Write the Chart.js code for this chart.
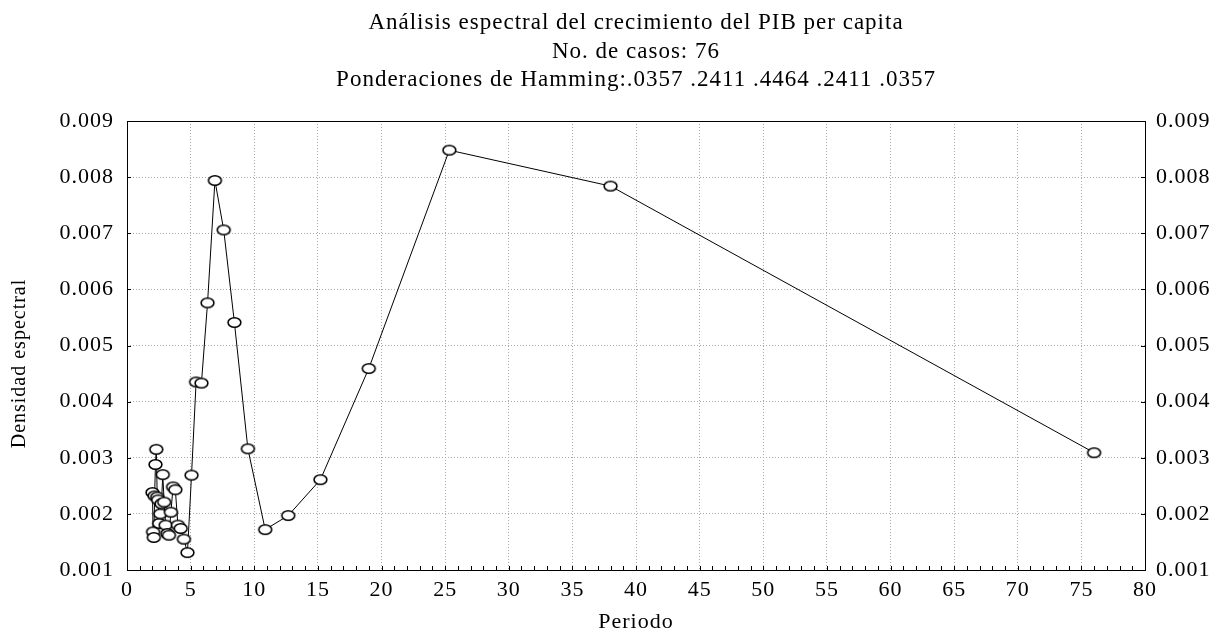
<!DOCTYPE html>
<html>
<head>
<meta charset="utf-8">
<script src="https://cdn.jsdelivr.net/npm/chart.js@4.4.0/dist/chart.umd.min.js"></script>
<style>
    html, body { margin: 0; padding: 0; background: #ffffff; }
    #grafico { width: 1216px; height: 633px; }
</style>
</head>
<body>
<div id="grafico"><canvas id="chartEspectro"></canvas></div>
<script>
const FUENTE = "'Liberation Serif', 'Times New Roman', serif";

const titulos = [
    'Análisis espectral del crecimiento del PIB per capita',
    'No. de casos: 76',
    'Ponderaciones de Hamming:.0357 .2411 .4464 .2411 .0357'
];

// periodo = 76 / k, de mayor a menor frecuencia
const periodos = [
    2.00, 2.05, 2.11, 2.17, 2.235, 2.30, 2.375, 2.45, 2.53, 2.62,
    2.71, 2.81, 2.92, 3.04, 3.17, 3.30, 3.45, 3.62, 3.80, 4.00,
    4.22, 4.47, 4.75, 5.07, 5.43, 5.85, 6.33, 6.91, 7.60, 8.44,
    9.50, 10.86, 12.67, 15.20, 19.00, 25.33, 38.00, 76.00
];

const densidad = [
    0.00238, 0.00168, 0.00158, 0.00232, 0.00288, 0.00315, 0.00230, 0.00225, 0.00183, 0.00200,
    0.00218, 0.00270, 0.00221, 0.00180, 0.00165, 0.00162, 0.00203, 0.00248, 0.00243, 0.00180,
    0.00174, 0.00155, 0.00131, 0.00269, 0.00435, 0.00433, 0.00576, 0.00794, 0.00706, 0.00541,
    0.00316, 0.00172, 0.00197, 0.00261, 0.00459, 0.00848, 0.00784, 0.00309
];

const ticksPeriodo = [0, 5, 10, 15, 20, 25, 30, 35, 40, 45, 50, 55, 60, 65, 70, 75, 80];
const ticksDensidad = [0.001, 0.002, 0.003, 0.004, 0.005, 0.006, 0.007, 0.008, 0.009];

function crearMarcador() {
    const c = document.createElement('canvas');
    c.width = 17;
    c.height = 13;
    const ctx = c.getContext('2d');
    ctx.beginPath();
    ctx.ellipse(8.5, 6.5, 6.4, 4.8, 0, 0, 2 * Math.PI);
    ctx.fillStyle = '#ffffff';
    ctx.fill();
    ctx.lineWidth = 1.6;
    ctx.strokeStyle = '#000000';
    ctx.stroke();
    return c;
}

// texto algo más espaciado
const espaciado = {
    id: 'espaciado',
    beforeDraw(chart) {
        chart.ctx.letterSpacing = '1px';
    }
};

// marco completo y marcas cortas hacia dentro
const marcasInternas = {
    id: 'marcasInternas',
    afterDraw(chart) {
        const { ctx, chartArea: a, scales } = chart;
        const x = scales.x;
        ctx.save();
        ctx.strokeStyle = '#000000';
        ctx.lineWidth = 1;
        ctx.strokeRect(Math.round(a.left) + 0.5, Math.round(a.top) + 0.5,
            Math.round(a.right - a.left), Math.round(a.bottom - a.top));
        ctx.beginPath();
        for (let v = 0; v <= 80; v++) {
            const px = Math.round(x.getPixelForValue(v)) + 0.5;
            ctx.moveTo(px, a.bottom);
            ctx.lineTo(px, a.bottom - 4);
        }
        ticksDensidad.forEach(v => {
            const py = Math.round(scales.y.getPixelForValue(v)) + 0.5;
            ctx.moveTo(a.left, py);
            ctx.lineTo(a.left + 4, py);
            ctx.moveTo(a.right, py);
            ctx.lineTo(a.right - 4, py);
        });
        ctx.stroke();
        ctx.restore();
    }
};

const puntos = periodos.map((p, i) => ({ x: p, y: densidad[i] }));

const fuenteTicks = { family: FUENTE, size: 22 };

new Chart(document.getElementById('chartEspectro'), {
    type: 'scatter',
    data: {
        datasets: [{
            label: 'Densidad espectral',
            data: puntos,
            showLine: true,
            borderColor: '#000000',
            borderWidth: 1,
            pointStyle: crearMarcador(),
            pointRadius: 6
        }]
    },
    options: {
        responsive: true,
        maintainAspectRatio: false,
        animation: false,
        layout: { padding: 0 },
        scales: {
            x: {
                type: 'linear',
                position: 'bottom',
                min: 0,
                max: 80,
                afterBuildTicks: (s) => { s.ticks = ticksPeriodo.map(v => ({ value: v })); },
                afterFit: (s) => { s.height = 63; },
                grid: { color: '#a8a8a8', drawTicks: false },
                border: { display: false, dash: [1, 2] },
                ticks: { color: '#000', font: fuenteTicks, padding: 7, maxRotation: 0 },
                title: {
                    display: true,
                    text: 'Periodo',
                    color: '#000',
                    font: { family: FUENTE, size: 22, lineHeight: 1 },
                    padding: { top: 0, bottom: 0 }
                }
            },
            y: {
                type: 'linear',
                position: 'left',
                min: 0.001,
                max: 0.009,
                afterBuildTicks: (s) => { s.ticks = ticksDensidad.map(v => ({ value: v })); },
                afterFit: (s) => { s.width = 127; },
                grid: { color: '#a8a8a8', drawTicks: false },
                border: { display: false, dash: [1, 2] },
                ticks: {
                    color: '#000',
                    font: fuenteTicks,
                    padding: 13,
                    callback: (v) => v.toFixed(3)
                },
                title: {
                    display: true,
                    text: 'Densidad espectral      ',
                    color: '#000',
                    font: { family: FUENTE, size: 20, lineHeight: 1 },
                    padding: { top: 10, bottom: 0 }
                }
            },
            y2: {
                type: 'linear',
                position: 'right',
                min: 0.001,
                max: 0.009,
                afterBuildTicks: (s) => { s.ticks = ticksDensidad.map(v => ({ value: v })); },
                afterFit: (s) => { s.width = 71; },
                grid: { drawOnChartArea: false, drawTicks: false },
                border: { display: false },
                ticks: {
                    color: '#000',
                    font: fuenteTicks,
                    padding: 11,
                    callback: (v) => v.toFixed(3)
                }
            }
        },
        plugins: {
            legend: { display: false },
            tooltip: { enabled: false },
            title: {
                display: true,
                fullSize: false,
                text: titulos,
                color: '#000',
                font: { family: FUENTE, size: 23, weight: 'normal', lineHeight: '28.5px' },
                padding: { top: 9, bottom: 26.5 }
            }
        }
    },
    plugins: [espaciado, marcasInternas]
});
</script>
</body>
</html>
